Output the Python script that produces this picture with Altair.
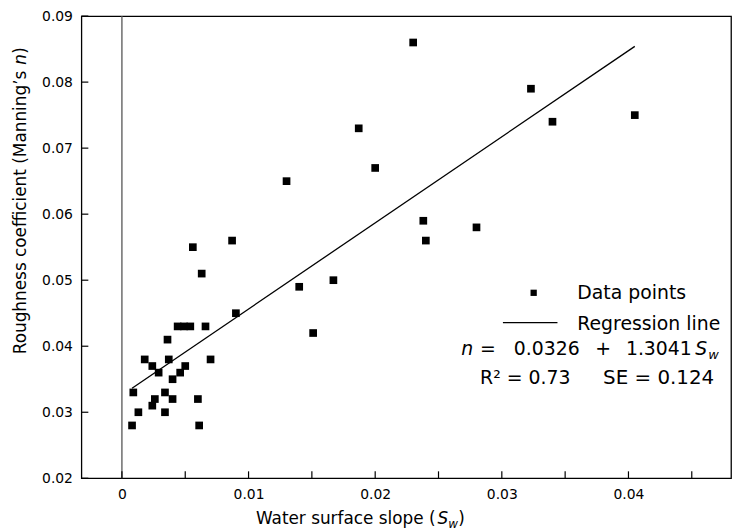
import altair as alt
import pandas as pd

# ---- data ----
slope_x = [0.0008, 0.0013, 0.0009, 0.0018, 0.0024, 0.0029, 0.0026, 0.0024,
           0.0034, 0.0034, 0.0040, 0.0037, 0.0036, 0.0040, 0.0046, 0.0050,
           0.0044, 0.0049, 0.0054, 0.0066, 0.0070, 0.0060, 0.0061, 0.0090,
           0.0056, 0.0087, 0.0063,
           0.0130, 0.0140, 0.0151, 0.0167, 0.0187, 0.0200, 0.0230, 0.0238,
           0.0240, 0.0280, 0.0323, 0.0340, 0.0405]
rough_n = [0.028, 0.030, 0.033, 0.038, 0.037, 0.036, 0.032, 0.031,
           0.033, 0.030, 0.032, 0.038, 0.041, 0.035, 0.036, 0.037,
           0.043, 0.043, 0.043, 0.043, 0.038, 0.032, 0.028, 0.045,
           0.055, 0.056, 0.051,
           0.065, 0.049, 0.042, 0.050, 0.073, 0.067, 0.086, 0.059,
           0.056, 0.058, 0.079, 0.074, 0.075]
line_x = [0.0008, 0.0405]
intercept = 0.0326
slope = 1.3041
x_ticks = [0, 0.005, 0.01, 0.015, 0.02, 0.025, 0.03, 0.035, 0.04, 0.045]
y_ticks = [0.02, 0.03, 0.04, 0.05, 0.06, 0.07, 0.08, 0.09]
x_domain = [-0.0032, 0.0481]
y_domain = [0.02, 0.09]

W, H = 655, 466
TOP = 6
FONT = "DejaVu Sans"

xs = alt.Scale(domain=x_domain, nice=False, zero=False)
ys = alt.Scale(domain=y_domain, nice=False, zero=False)

pts = pd.DataFrame({"x": slope_x, "y": rough_n})

points = alt.Chart(pts).mark_point(
    shape="square", filled=True, size=60, color="black", opacity=1
).encode(
    x=alt.X("x:Q", scale=xs, axis=alt.Axis(
        values=x_ticks,
        labelExpr="abs(round(datum.value*1000)) % 10 == 0 ? format(datum.value, '~g') : ''",
        tickSize=0, title=None, domain=False, grid=False,
        labelFont=FONT, labelFontSize=14, labelPadding=9, labelColor="black")),
    y=alt.Y("y:Q", scale=ys, axis=alt.Axis(
        values=y_ticks, format=".2f",
        tickSize=0, title=None, domain=False, grid=False,
        labelFont=FONT, labelFontSize=14, labelPadding=9, labelColor="black")),
)

zero_line = alt.Chart(pd.DataFrame({"x": [0.0]})).mark_rule(
    color="#555555", strokeWidth=1.3
).encode(x=alt.X("x:Q", scale=xs))

xt = alt.Chart(pd.DataFrame({"x": x_ticks})).mark_rule(
    color="black", strokeWidth=1.2
).encode(x=alt.X("x:Q", scale=xs), y=alt.value(H), y2=alt.value(H - 7))

yt = alt.Chart(pd.DataFrame({"y": y_ticks})).mark_rule(
    color="black", strokeWidth=1.2
).encode(y=alt.Y("y:Q", scale=ys), x=alt.value(0), x2=alt.value(7))

reg = alt.Chart(pd.DataFrame({"x": line_x})).transform_calculate(
    y=f"{intercept} + {slope} * datum.x"
).mark_line(color="black", strokeWidth=1.3).encode(
    x=alt.X("x:Q", scale=xs), y=alt.Y("y:Q", scale=ys)
)

# offset so that pixel positions below are relative to the reference frame top (y=12)
dy = 12 - (8 + TOP)


def txt(s, x, y, size=19, style="normal", align="left", angle=0):
    return alt.Chart(pd.DataFrame({"t": [s]})).mark_text(
        font=FONT, fontSize=size, fontStyle=style, align=align,
        baseline="middle", color="black", angle=angle
    ).encode(text="t:N", x=alt.value(x), y=alt.value(y + dy))


legend_marker = alt.Chart(pd.DataFrame({"t": ["m"]})).mark_point(
    shape="square", filled=True, size=40, color="black", opacity=1
).encode(x=alt.value(456), y=alt.value(281 + dy))

legend_line = alt.Chart(pd.DataFrame({"t": ["l"]})).mark_rule(
    color="black", strokeWidth=1.3
).encode(x=alt.value(425), x2=alt.value(480), y=alt.value(311 + dy))

annotations = [
    txt("Data points", 500, 281),
    txt("Regression line", 500, 312),
    txt("n", 383, 338, style="italic"),
    txt("=", 402, 338),
    txt("0.0326", 436, 338),
    txt("+", 518, 338),
    txt("1.3041", 549, 338),
    txt("S", 619, 338, style="italic"),
    txt("w", 632, 344, size=13, style="italic"),
    txt("R² = 0.73", 402, 367),
    txt("SE = 0.124", 526, 367, size=20),
    # x-axis title
    txt("Water surface slope (", 176, 509, size=17),
    txt("S", 359, 509, size=17, style="italic"),
    txt("w", 370, 514, size=12, style="italic"),
    txt(")", 380, 509, size=17),
    # y-axis title (rotated)
    txt("Roughness coefficient (Manning\u2019s", -61, 343, size=17, angle=270),
    txt("n", -61, 51, size=17, style="italic", angle=270),
    txt(")", -61, 40, size=17, angle=270),
]

chart = alt.layer(
    zero_line, xt, yt, reg, points, legend_marker, legend_line, *annotations
).properties(
    width=W, height=H,
    autosize=alt.AutoSizeParams(type="none"),
    padding={"left": 74, "top": TOP, "right": 4, "bottom": 50},
).configure_view(
    stroke="black", strokeWidth=1.3
).configure_axis(domain=False, grid=False)

chart.save("out.html", embed_options={"renderer": "svg", "actions": False})
